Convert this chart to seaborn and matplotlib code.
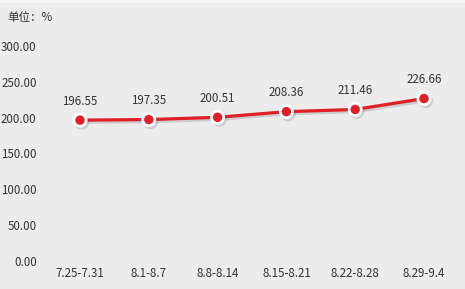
import matplotlib
matplotlib.use("Agg")
import matplotlib.pyplot as plt
import matplotlib.patheffects as pe
import seaborn as sns
import pandas as pd

weeks = ["7.25-7.31", "8.1-8.7", "8.8-8.14", "8.15-8.21", "8.22-8.28", "8.29-9.4"]
values = [196.55, 197.35, 200.51, 208.36, 211.46, 226.66]
y_ticks = [0, 50, 100, 150, 200, 250, 300]
unit_label = "单位：%"

bg = "#ececec"
red = "#e01f26"
txt = "#333333"
fs = 8.3

sns.set_theme(style="white")
plt.rcParams["font.family"] = ["Noto Sans CJK SC", "DejaVu Sans"]

fig = plt.figure(figsize=(4.65, 2.89), dpi=100)
fig.patch.set_facecolor(bg)
fig.patches.append(plt.Rectangle((0, 1 - 3 / 289), 1, 3 / 289, transform=fig.transFigure,
                                 facecolor="#f6f6f6", edgecolor="none", zorder=0))

ax = fig.add_axes([45 / 465, (289 - 261) / 289, (460 - 45) / 465, (261 - 46) / 289])
ax.set_facecolor(bg)

df = pd.DataFrame({"pos": range(len(weeks)), "value": values})
shadow = [pe.SimpleLineShadow(offset=(1.2, -1.5), shadow_color="k", alpha=0.15), pe.Normal()]
sns.lineplot(data=df, x="pos", y="value", ax=ax, color=red, linewidth=2.3,
             marker="o", markersize=8.8, markerfacecolor=red, markeredgecolor="white",
             markeredgewidth=2.0, path_effects=shadow, zorder=3)

for i, v in enumerate(values):
    ax.annotate(f"{v:.2f}", (i, v), xytext=(0, 13.5), textcoords="offset points",
                ha="center", va="center", fontsize=fs, color=txt)

step = (424 - 80) / 5
ax.set_xlim(-(80 - 45) / step, (460 - 80) / step)
ax.set_ylim(0, 300)
ax.set_xticks(range(len(weeks)))
ax.set_xticklabels(weeks)
ax.set_yticks(y_ticks)
ax.set_yticklabels([f"{t:.2f}" for t in y_ticks])
ax.tick_params(axis="both", length=0, labelsize=fs, labelcolor=txt)
ax.tick_params(axis="y", pad=6)
ax.tick_params(axis="x", pad=4)
ax.set_xlabel("")
ax.set_ylabel("")
for s in ax.spines.values():
    s.set_visible(False)

fig.text(7 / 465, 1 - 17 / 289, unit_label, fontsize=fs, color=txt, ha="left", va="center")

fig.savefig("out.png", dpi=100, facecolor=bg)
